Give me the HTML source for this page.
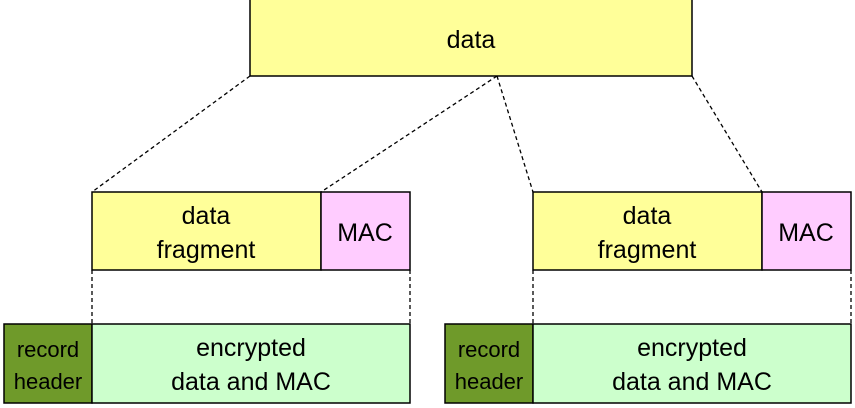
<!DOCTYPE html>
<html><head><style>body{margin:0;background:#fff}svg{display:block}text{font-family:"Liberation Sans",sans-serif;fill:#000;text-anchor:middle}</style></head>
<body>
<svg width="855" height="408" xmlns="http://www.w3.org/2000/svg">
<g stroke="#000" stroke-width="1.3" stroke-dasharray="4,3" fill="none">
<line x1="250" y1="76" x2="92" y2="192"/>
<line x1="497" y1="76" x2="321" y2="192"/>
<line x1="497" y1="76" x2="533" y2="192"/>
<line x1="692" y1="76" x2="762" y2="192"/>
<line x1="92" y1="270" x2="92" y2="324"/>
<line x1="410" y1="270" x2="410" y2="324"/>
<line x1="533" y1="270" x2="533" y2="324"/>
<line x1="851" y1="270" x2="851" y2="324"/>
</g>
<g stroke="#000" stroke-width="1.5">
<rect x="250" y="-2" width="442" height="78" fill="#ffff99"/>
<rect x="92" y="192" width="229" height="78" fill="#ffff99"/>
<rect x="321" y="192" width="89" height="78" fill="#ffccff"/>
<rect x="533" y="192" width="229" height="78" fill="#ffff99"/>
<rect x="762" y="192" width="89" height="78" fill="#ffccff"/>
<rect x="4" y="324" width="88" height="79" fill="#6f9a2a"/>
<rect x="92" y="324" width="318" height="79" fill="#ccffcc"/>
<rect x="445" y="324" width="88" height="79" fill="#6f9a2a"/>
<rect x="533" y="324" width="318" height="79" fill="#ccffcc"/>
</g>
<g font-size="25">
<text x="471" y="48">data</text>
<text x="206" y="224">data</text><text x="206" y="258">fragment</text>
<text x="365" y="241">MAC</text>
<text x="647" y="224">data</text><text x="647" y="258">fragment</text>
<text x="806" y="241">MAC</text>
<text x="251" y="356">encrypted</text><text x="251" y="390">data and MAC</text>
<text x="692" y="356">encrypted</text><text x="692" y="390">data and MAC</text>
</g>
<g font-size="22">
<text x="48" y="357">record</text><text x="48" y="389">header</text>
<text x="489" y="357">record</text><text x="489" y="389">header</text>
</g>
</svg>
</body></html>
